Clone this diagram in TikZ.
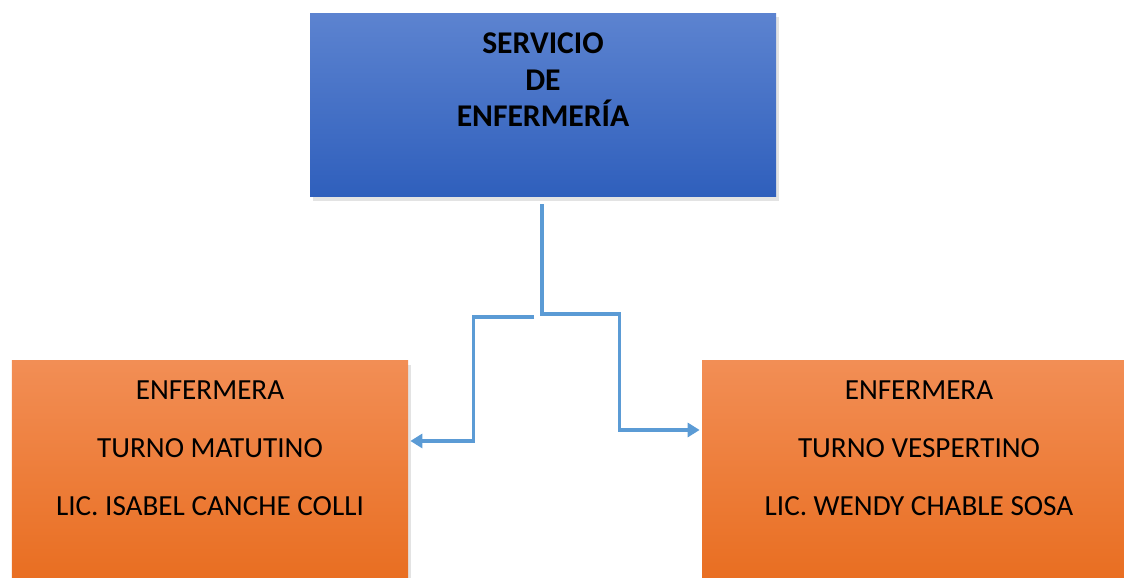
\documentclass[tikz,border=0pt]{standalone}
\usepackage{fontspec}
\setmainfont{Carlito}
\usepackage{tikz}
\usetikzlibrary{arrows.meta,positioning,calc,shadows}

\definecolor{headtop}{RGB}{92,131,208}
\definecolor{headbot}{RGB}{47,95,188}
\definecolor{shifttop}{RGB}{242,142,85}
\definecolor{shiftbot}{RGB}{232,108,30}
\definecolor{linkblue}{RGB}{91,155,213}

\begin{document}
\begin{tikzpicture}
\tikzset{box/.style={draw=none, inner sep=0pt,
  drop shadow={shadow xshift=1.5pt, shadow yshift=-2pt, opacity=.22}}}
\tikzset{headbox/.style={box, top color=headtop, bottom color=headbot,
  minimum width=9.32cm, minimum height=3.66cm}}
\tikzset{shiftbox/.style={box, top color=shifttop, bottom color=shiftbot,
  minimum height=4.64cm}}
\tikzset{headtext/.style={align=center, inner sep=0pt, font=\fontsize{18}{20.8}\selectfont\bfseries}}
\tikzset{shifttext/.style={align=center, inner sep=0pt, font=\fontsize{16.6}{33}\selectfont}}
\tikzset{conn/.style={draw=linkblue, line width=2pt}}
\tikzset{tip/.style={-{Triangle[length=0.24cm,width=0.28cm]}}}
\clip (0,0) rectangle (22.48,11.56);
% boxes
\node[headbox] (svc) at (10.86,9.45) {};
\node[headtext, below=0.38cm of svc.north] (svctxt) {SERVICIO\\DE\\ENFERMERÍA};
\node[shiftbox, minimum width=7.92cm] (mat) at (4.2,2.02) {};
\node[shifttext, below=0.4cm of mat.north] (mattxt) {ENFERMERA\\TURNO MATUTINO\\LIC. ISABEL CANCHE COLLI};
\node[shiftbox, minimum width=8.68cm] (vesp) at (18.38,2.02) {};
\node[shifttext, below=0.4cm of vesp.north] (vesptxt) {ENFERMERA\\TURNO VESPERTINO\\LIC. WENDY CHABLE SOSA};
% connectors
\coordinate (split) at (10.84,5.26);
\coordinate (lsplit) at (10.68,5.22);
\draw[conn] ([yshift=-0.14cm]svc.south -| split) -- ([yshift=-0.03cm]split);
\draw[conn, tip] ([yshift=0.02cm]split) -| ($(vesp.west)+(-1.64,0.94)$) -- ($(vesp.west)+(-0.04,0.94)$);
\draw[conn, tip] (lsplit) -| ($(mat.east)+(1.3,0.72)$) -- ($(mat.east)+(0.04,0.72)$);
\end{tikzpicture}
\end{document}
